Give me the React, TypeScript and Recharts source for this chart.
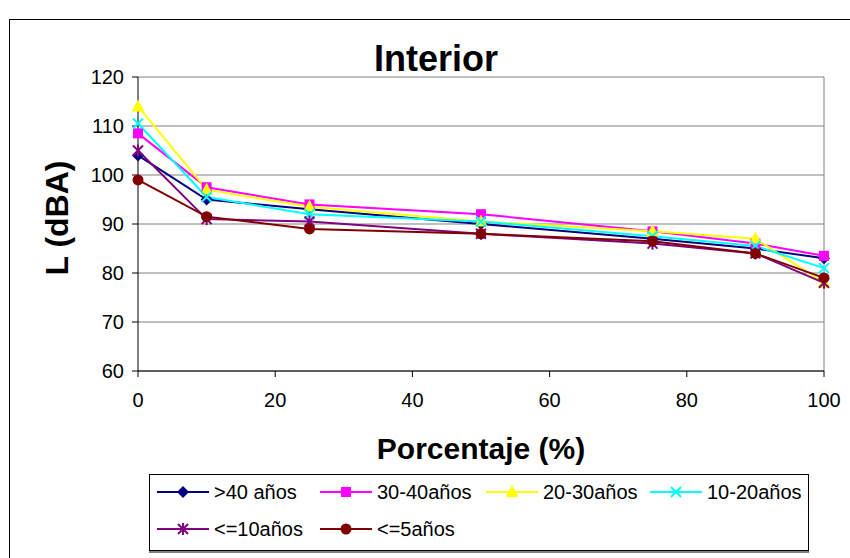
import React from 'react';
import {
  LineChart,
  Line,
  XAxis,
  YAxis,
  CartesianGrid,
  ReferenceLine,
  Legend,
  Customized,
} from 'recharts';

const FONT = '"Liberation Sans", Arial, Helvetica, sans-serif';

// ---- data ----
const percentages = [0, 10, 25, 50, 75, 90, 100];
const over40 = [104, 95, 93, 90, 87, 85, 83];
const from30to40 = [108.5, 97.5, 94, 92, 88.5, 86, 83.5];
const from20to30 = [114, 97, 93.5, 90.5, 88.5, 87, 78];
const from10to20 = [110.5, 95.5, 92, 90.5, 87.5, 85.5, 81];
const upTo10 = [105, 91, 90.5, 88, 86, 84, 78];
const upTo5 = [99, 91.5, 89, 88, 86.5, 84, 79];

const xTicks = [0, 20, 40, 60, 80, 100];
const yTicks = [60, 70, 80, 90, 100, 110, 120];

const seriesNames = ['>40 años', '30-40años', '20-30años', '10-20años', '<=10años', '<=5años'];
const seriesValues = [over40, from30to40, from20to30, from10to20, upTo10, upTo5];
const seriesColors = ['#000080', '#FF00FF', '#FFFF00', '#00FFFF', '#800080', '#800000'];
const seriesShapes = ['diamond', 'square', 'triangle', 'x', 'star', 'circle'];

const data = percentages.map((x, i) => {
  const row: Record<string, number> = { x };
  seriesValues.forEach((vals, s) => {
    row['s' + s] = vals[i];
  });
  return row;
});

// ---- markers ----
function Marker({ shape, color, cx, cy }: { shape: string; color: string; cx: number; cy: number }) {
  switch (shape) {
    case 'diamond':
      return (
        <polygon
          points={`${cx},${cy - 6} ${cx + 6},${cy} ${cx},${cy + 6} ${cx - 6},${cy}`}
          fill={color}
        />
      );
    case 'square':
      return <rect x={cx - 5} y={cy - 5} width={10} height={10} fill={color} />;
    case 'triangle':
      return (
        <polygon
          points={`${cx},${cy - 7} ${cx + 6.5},${cy + 5} ${cx - 6.5},${cy + 5}`}
          fill={color}
        />
      );
    case 'x':
      return (
        <g stroke={color} strokeWidth={2}>
          <line x1={cx - 5} y1={cy - 5} x2={cx + 5} y2={cy + 5} />
          <line x1={cx - 5} y1={cy + 5} x2={cx + 5} y2={cy - 5} />
        </g>
      );
    case 'star':
      return (
        <g stroke={color} strokeWidth={2}>
          <line x1={cx - 5} y1={cy - 5} x2={cx + 5} y2={cy + 5} />
          <line x1={cx - 5} y1={cy + 5} x2={cx + 5} y2={cy - 5} />
          <line x1={cx} y1={cy - 6} x2={cx} y2={cy + 6} />
        </g>
      );
    default:
      return <circle cx={cx} cy={cy} r={5.5} fill={color} />;
  }
}

const makeDot = (shape: string, color: string, s: number) => (props: any) => {
  const { cx, cy, index } = props;
  if (cx == null || cy == null) return <g key={`d${s}-${index}`} />;
  return (
    <g key={`d${s}-${index}`}>
      <Marker shape={shape} color={color} cx={cx} cy={cy} />
    </g>
  );
};

// ---- legend ----
const legendCols = [8, 171, 337, 501];
const legendRows = [18, 55];

const LegendBox = () => (
  <div
    style={{
      width: 660,
      height: 77,
      border: '1px solid #000',
      boxShadow: '0 2px 0 #808080',
      boxSizing: 'border-box',
      background: '#fff',
      position: 'relative',
    }}
  >
    <svg width={660} height={77} style={{ position: 'absolute', left: -1, top: -1 }}>
      {seriesNames.map((name, i) => {
        const x = legendCols[i % 4];
        const y = legendRows[Math.floor(i / 4)];
        return (
          <g key={name}>
            <line x1={x} y1={y} x2={x + 52} y2={y} stroke={seriesColors[i]} strokeWidth={2} />
            <Marker shape={seriesShapes[i]} color={seriesColors[i]} cx={x + 26} cy={y} />
            <text
              x={x + 57}
              y={y + 7}
              fontSize={20}
              fontFamily={FONT}
              fill="#000"
            >
              {name}
            </text>
          </g>
        );
      })}
    </svg>
  </div>
);

// ---- overlay texts & frame ----
const Overlay = () => (
  <g>
    <rect x={9.5} y={19.5} width={880} height={600} fill="none" stroke="#000" strokeWidth={1} />
    <text x={436} y={71} textAnchor="middle" fontSize={36} fontWeight="bold" fontFamily={FONT} fill="#000">
      Interior
    </text>
    <text x={481} y={459} textAnchor="middle" fontSize={30} fontWeight="bold" fontFamily={FONT} fill="#000">
      Porcentaje (%)
    </text>
    <text
      x={68}
      y={218}
      textAnchor="middle"
      fontSize={32}
      fontWeight="bold"
      fontFamily={FONT}
      fill="#000"
      transform="rotate(-90, 68, 218)"
    >
      L (dBA)
    </text>
  </g>
);

export default function App() {
  return (
    <div style={{ position: 'absolute', left: 0, top: 0, width: 850, height: 558, background: '#fff' }}>
      <LineChart
        width={850}
        height={558}
        data={data}
        margin={{ top: 77, right: 26, left: 78, bottom: 157 }}
        style={{ fontFamily: FONT }}
      >
        <CartesianGrid horizontal={true} vertical={false} stroke="#808080" strokeWidth={1} />
        <ReferenceLine x={100} stroke="#808080" strokeWidth={1} />
        <XAxis
          type="number"
          dataKey="x"
          domain={[0, 100]}
          ticks={xTicks}
          interval={0}
          height={30}
          stroke="#000"
          tickSize={6}
          tickMargin={16}
          tick={{ fill: '#000', fontSize: 20, fontFamily: FONT }}
        />
        <YAxis
          type="number"
          domain={[60, 120]}
          ticks={yTicks}
          interval={0}
          width={60}
          stroke="#000"
          tickSize={6}
          tickMargin={8}
          tick={{ fill: '#000', fontSize: 20, fontFamily: FONT }}
        />
        {seriesNames.map((name, s) => (
          <Line
            key={name}
            type="linear"
            dataKey={'s' + s}
            name={name}
            stroke={seriesColors[s]}
            strokeWidth={2}
            dot={makeDot(seriesShapes[s], seriesColors[s], s)}
            activeDot={false}
            isAnimationActive={false}
          />
        ))}
        <Legend
          layout="horizontal"
          verticalAlign="middle"
          align="center"
          wrapperStyle={{ left: 149, top: 474, width: 660, height: 77 }}
          content={() => <LegendBox />}
        />
        <Customized component={Overlay} />
      </LineChart>
    </div>
  );
}
